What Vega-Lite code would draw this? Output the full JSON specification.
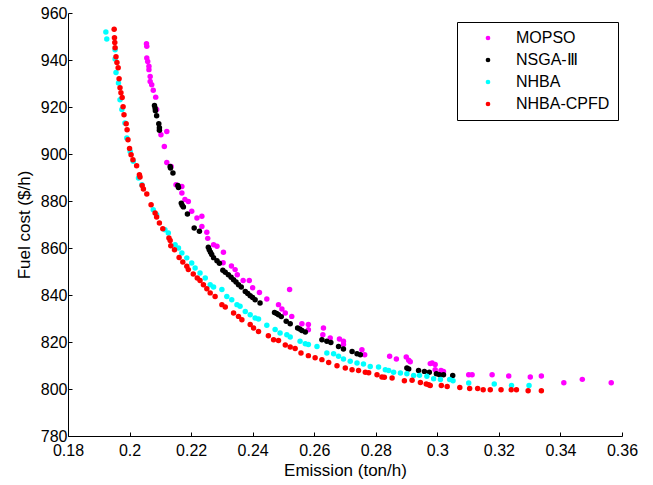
{
  "$schema": "https://vega.github.io/schema/vega-lite/v6.json",
  "width": 554,
  "height": 423,
  "autosize": {"type": "none"},
  "padding": {"left": 68, "top": 13, "right": 31, "bottom": 49},
  "background": "white",
  "config": {
    "view": {"stroke": null},
    "font": "Liberation Sans",
    "axis": {
      "grid": false,
      "domainColor": "black",
      "domainWidth": 1,
      "tickColor": "black",
      "tickWidth": 1,
      "tickSize": -4,
      "labelFont": "Liberation Sans",
      "labelFontSize": 16,
      "labelColor": "black",
      "titleFont": "Liberation Sans",
      "titleFontSize": 17,
      "titleFontWeight": "normal",
      "titleColor": "black"
    },
    "legend": {
      "labelFont": "Liberation Sans",
      "labelFontSize": 16,
      "labelColor": "black"
    }
  },
  "data": {"values": [
    {"a":"MOPSO","x":0.2055,"y":946.9},{"a":"MOPSO","x":0.2056,"y":945.8},{"a":"MOPSO","x":0.2056,"y":940.9},{"a":"MOPSO","x":0.2059,"y":939.4},{"a":"MOPSO","x":0.2063,"y":937.3},{"a":"MOPSO","x":0.2063,"y":935.9},{"a":"MOPSO","x":0.2067,"y":933.0},{"a":"MOPSO","x":0.2067,"y":930.9},{"a":"MOPSO","x":0.2072,"y":929.5},{"a":"MOPSO","x":0.2077,"y":927.1},{"a":"MOPSO","x":0.2085,"y":924.2},{"a":"MOPSO","x":0.2088,"y":918.9},{"a":"MOPSO","x":0.2102,"y":908.2},{"a":"MOPSO","x":0.2121,"y":909.6},{"a":"MOPSO","x":0.2113,"y":903.2},{"a":"MOPSO","x":0.2121,"y":896.4},{"a":"MOPSO","x":0.2135,"y":894.7},{"a":"MOPSO","x":0.2151,"y":886.9},{"a":"MOPSO","x":0.2170,"y":886.2},{"a":"MOPSO","x":0.2170,"y":883.4},{"a":"MOPSO","x":0.2180,"y":880.6},{"a":"MOPSO","x":0.2191,"y":879.8},{"a":"MOPSO","x":0.2202,"y":875.6},{"a":"MOPSO","x":0.2219,"y":872.8},{"a":"MOPSO","x":0.2235,"y":873.5},{"a":"MOPSO","x":0.2235,"y":869.2},{"a":"MOPSO","x":0.2251,"y":866.7},{"a":"MOPSO","x":0.2254,"y":864.1},{"a":"MOPSO","x":0.2273,"y":861.4},{"a":"MOPSO","x":0.2284,"y":860.7},{"a":"MOPSO","x":0.2305,"y":858.2},{"a":"MOPSO","x":0.2304,"y":853.7},{"a":"MOPSO","x":0.2331,"y":852.3},{"a":"MOPSO","x":0.2343,"y":850.8},{"a":"MOPSO","x":0.2350,"y":848.6},{"a":"MOPSO","x":0.2369,"y":846.2},{"a":"MOPSO","x":0.2389,"y":846.2},{"a":"MOPSO","x":0.2400,"y":843.1},{"a":"MOPSO","x":0.2422,"y":841.1},{"a":"MOPSO","x":0.2446,"y":838.3},{"a":"MOPSO","x":0.2520,"y":842.3},{"a":"MOPSO","x":0.2484,"y":835.9},{"a":"MOPSO","x":0.2495,"y":834.0},{"a":"MOPSO","x":0.2506,"y":832.3},{"a":"MOPSO","x":0.2527,"y":830.9},{"a":"MOPSO","x":0.2560,"y":827.8},{"a":"MOPSO","x":0.2581,"y":827.4},{"a":"MOPSO","x":0.2581,"y":825.2},{"a":"MOPSO","x":0.2630,"y":826.0},{"a":"MOPSO","x":0.2628,"y":823.1},{"a":"MOPSO","x":0.2652,"y":821.7},{"a":"MOPSO","x":0.2682,"y":821.3},{"a":"MOPSO","x":0.2695,"y":820.3},{"a":"MOPSO","x":0.2695,"y":818.9},{"a":"MOPSO","x":0.2755,"y":816.7},{"a":"MOPSO","x":0.2764,"y":814.6},{"a":"MOPSO","x":0.2845,"y":813.9},{"a":"MOPSO","x":0.2867,"y":812.8},{"a":"MOPSO","x":0.2899,"y":813.6},{"a":"MOPSO","x":0.2907,"y":812.2},{"a":"MOPSO","x":0.2912,"y":811.6},{"a":"MOPSO","x":0.2977,"y":810.8},{"a":"MOPSO","x":0.2983,"y":811.1},{"a":"MOPSO","x":0.2993,"y":810.4},{"a":"MOPSO","x":0.2993,"y":808.2},{"a":"MOPSO","x":0.3012,"y":807.9},{"a":"MOPSO","x":0.3020,"y":807.5},{"a":"MOPSO","x":0.3102,"y":806.1},{"a":"MOPSO","x":0.3113,"y":806.1},{"a":"MOPSO","x":0.3178,"y":806.1},{"a":"MOPSO","x":0.3232,"y":805.5},{"a":"MOPSO","x":0.3302,"y":805.1},{"a":"MOPSO","x":0.3338,"y":805.5},{"a":"MOPSO","x":0.3411,"y":802.7},{"a":"MOPSO","x":0.3471,"y":804.1},{"a":"MOPSO","x":0.3565,"y":802.7},

    {"a":"NSGA-Ⅲ","x":0.2081,"y":920.6},{"a":"NSGA-Ⅲ","x":0.2083,"y":919.6},{"a":"NSGA-Ⅲ","x":0.2084,"y":918.4},{"a":"NSGA-Ⅲ","x":0.2088,"y":916.3},{"a":"NSGA-Ⅲ","x":0.2095,"y":912.9},{"a":"NSGA-Ⅲ","x":0.2097,"y":911.2},{"a":"NSGA-Ⅲ","x":0.2097,"y":910.1},{"a":"NSGA-Ⅲ","x":0.2132,"y":894.7},{"a":"NSGA-Ⅲ","x":0.2133,"y":894.0},{"a":"NSGA-Ⅲ","x":0.2141,"y":891.9},{"a":"NSGA-Ⅲ","x":0.2157,"y":886.6},{"a":"NSGA-Ⅲ","x":0.2159,"y":885.7},{"a":"NSGA-Ⅲ","x":0.2168,"y":879.1},{"a":"NSGA-Ⅲ","x":0.2171,"y":878.2},{"a":"NSGA-Ⅲ","x":0.2175,"y":877.5},{"a":"NSGA-Ⅲ","x":0.2188,"y":874.5},{"a":"NSGA-Ⅲ","x":0.2210,"y":868.5},{"a":"NSGA-Ⅲ","x":0.2227,"y":867.1},{"a":"NSGA-Ⅲ","x":0.2256,"y":860.3},{"a":"NSGA-Ⅲ","x":0.2259,"y":859.3},{"a":"NSGA-Ⅲ","x":0.2263,"y":858.2},{"a":"NSGA-Ⅲ","x":0.2267,"y":857.2},{"a":"NSGA-Ⅲ","x":0.2273,"y":855.9},{"a":"NSGA-Ⅲ","x":0.2284,"y":854.6},{"a":"NSGA-Ⅲ","x":0.2292,"y":853.5},{"a":"NSGA-Ⅲ","x":0.2303,"y":850.5},{"a":"NSGA-Ⅲ","x":0.2311,"y":849.7},{"a":"NSGA-Ⅲ","x":0.2321,"y":848.6},{"a":"NSGA-Ⅲ","x":0.2330,"y":847.6},{"a":"NSGA-Ⅲ","x":0.2338,"y":846.5},{"a":"NSGA-Ⅲ","x":0.2346,"y":845.5},{"a":"NSGA-Ⅲ","x":0.2354,"y":844.4},{"a":"NSGA-Ⅲ","x":0.2363,"y":843.4},{"a":"NSGA-Ⅲ","x":0.2376,"y":841.5},{"a":"NSGA-Ⅲ","x":0.2384,"y":840.6},{"a":"NSGA-Ⅲ","x":0.2392,"y":839.7},{"a":"NSGA-Ⅲ","x":0.2400,"y":838.9},{"a":"NSGA-Ⅲ","x":0.2408,"y":838.0},{"a":"NSGA-Ⅲ","x":0.2424,"y":836.6},{"a":"NSGA-Ⅲ","x":0.2471,"y":832.6},{"a":"NSGA-Ⅲ","x":0.2478,"y":832.1},{"a":"NSGA-Ⅲ","x":0.2484,"y":831.6},{"a":"NSGA-Ⅲ","x":0.2493,"y":830.8},{"a":"NSGA-Ⅲ","x":0.2509,"y":828.8},{"a":"NSGA-Ⅲ","x":0.2522,"y":827.8},{"a":"NSGA-Ⅲ","x":0.2546,"y":826.0},{"a":"NSGA-Ⅲ","x":0.2553,"y":825.5},{"a":"NSGA-Ⅲ","x":0.2560,"y":824.9},{"a":"NSGA-Ⅲ","x":0.2571,"y":824.3},{"a":"NSGA-Ⅲ","x":0.2625,"y":821.0},{"a":"NSGA-Ⅲ","x":0.2641,"y":820.3},{"a":"NSGA-Ⅲ","x":0.2654,"y":819.8},{"a":"NSGA-Ⅲ","x":0.2679,"y":818.1},{"a":"NSGA-Ⅲ","x":0.2695,"y":817.0},{"a":"NSGA-Ⅲ","x":0.2723,"y":816.0},{"a":"NSGA-Ⅲ","x":0.2739,"y":815.0},{"a":"NSGA-Ⅲ","x":0.2750,"y":814.6},{"a":"NSGA-Ⅲ","x":0.2901,"y":808.9},{"a":"NSGA-Ⅲ","x":0.2907,"y":808.5},{"a":"NSGA-Ⅲ","x":0.2939,"y":807.9},{"a":"NSGA-Ⅲ","x":0.2958,"y":807.5},{"a":"NSGA-Ⅲ","x":0.2974,"y":807.1},{"a":"NSGA-Ⅲ","x":0.2997,"y":806.5},{"a":"NSGA-Ⅲ","x":0.3007,"y":806.1},{"a":"NSGA-Ⅲ","x":0.3020,"y":806.1},{"a":"NSGA-Ⅲ","x":0.3050,"y":805.7},

    {"a":"NHBA","x":0.1923,"y":951.9},{"a":"NHBA","x":0.1926,"y":948.9},{"a":"NHBA","x":0.1953,"y":944.4},{"a":"NHBA","x":0.1953,"y":940.4},{"a":"NHBA","x":0.1956,"y":934.7},{"a":"NHBA","x":0.1964,"y":930.2},{"a":"NHBA","x":0.1969,"y":923.1},{"a":"NHBA","x":0.1975,"y":918.9},{"a":"NHBA","x":0.1985,"y":913.2},{"a":"NHBA","x":0.1991,"y":906.8},{"a":"NHBA","x":0.2002,"y":901.1},{"a":"NHBA","x":0.2012,"y":896.9},{"a":"NHBA","x":0.2029,"y":889.8},{"a":"NHBA","x":0.2040,"y":886.9},{"a":"NHBA","x":0.2077,"y":876.3},{"a":"NHBA","x":0.2088,"y":874.2},{"a":"NHBA","x":0.2115,"y":867.8},{"a":"NHBA","x":0.2126,"y":866.4},{"a":"NHBA","x":0.2148,"y":861.4},{"a":"NHBA","x":0.2159,"y":860.0},{"a":"NHBA","x":0.2170,"y":857.9},{"a":"NHBA","x":0.2186,"y":855.8},{"a":"NHBA","x":0.2202,"y":853.6},{"a":"NHBA","x":0.2213,"y":851.5},{"a":"NHBA","x":0.2229,"y":849.4},{"a":"NHBA","x":0.2246,"y":847.2},{"a":"NHBA","x":0.2262,"y":844.4},{"a":"NHBA","x":0.2273,"y":843.4},{"a":"NHBA","x":0.2300,"y":842.3},{"a":"NHBA","x":0.2316,"y":839.4},{"a":"NHBA","x":0.2332,"y":838.0},{"a":"NHBA","x":0.2349,"y":835.9},{"a":"NHBA","x":0.2359,"y":835.2},{"a":"NHBA","x":0.2376,"y":833.0},{"a":"NHBA","x":0.2392,"y":831.6},{"a":"NHBA","x":0.2408,"y":830.2},{"a":"NHBA","x":0.2419,"y":829.8},{"a":"NHBA","x":0.2446,"y":827.1},{"a":"NHBA","x":0.2473,"y":825.3},{"a":"NHBA","x":0.2489,"y":823.8},{"a":"NHBA","x":0.2511,"y":823.1},{"a":"NHBA","x":0.2522,"y":822.1},{"a":"NHBA","x":0.2554,"y":820.3},{"a":"NHBA","x":0.2571,"y":819.3},{"a":"NHBA","x":0.2581,"y":818.9},{"a":"NHBA","x":0.2609,"y":818.1},{"a":"NHBA","x":0.2641,"y":815.3},{"a":"NHBA","x":0.2663,"y":815.0},{"a":"NHBA","x":0.2679,"y":813.9},{"a":"NHBA","x":0.2695,"y":812.8},{"a":"NHBA","x":0.2717,"y":811.8},{"a":"NHBA","x":0.2739,"y":811.1},{"a":"NHBA","x":0.2760,"y":810.6},{"a":"NHBA","x":0.2782,"y":809.6},{"a":"NHBA","x":0.2809,"y":809.4},{"a":"NHBA","x":0.2831,"y":808.2},{"a":"NHBA","x":0.2842,"y":807.9},{"a":"NHBA","x":0.2858,"y":807.1},{"a":"NHBA","x":0.2880,"y":806.8},{"a":"NHBA","x":0.2901,"y":806.5},{"a":"NHBA","x":0.2923,"y":805.7},{"a":"NHBA","x":0.2942,"y":805.8},{"a":"NHBA","x":0.2966,"y":805.4},{"a":"NHBA","x":0.2988,"y":804.4},{"a":"NHBA","x":0.3010,"y":804.0},{"a":"NHBA","x":0.3040,"y":804.0},{"a":"NHBA","x":0.3051,"y":803.5},{"a":"NHBA","x":0.3102,"y":802.6},{"a":"NHBA","x":0.3185,"y":802.1},{"a":"NHBA","x":0.3241,"y":801.5},{"a":"NHBA","x":0.3298,"y":801.5},

    {"a":"NHBA-CPFD","x":0.1950,"y":953.1},{"a":"NHBA-CPFD","x":0.1951,"y":949.5},{"a":"NHBA-CPFD","x":0.1952,"y":947.4},{"a":"NHBA-CPFD","x":0.1953,"y":945.2},{"a":"NHBA-CPFD","x":0.1956,"y":941.4},{"a":"NHBA-CPFD","x":0.1959,"y":938.9},{"a":"NHBA-CPFD","x":0.1963,"y":936.7},{"a":"NHBA-CPFD","x":0.1966,"y":932.0},{"a":"NHBA-CPFD","x":0.1969,"y":928.2},{"a":"NHBA-CPFD","x":0.1972,"y":926.1},{"a":"NHBA-CPFD","x":0.1976,"y":924.0},{"a":"NHBA-CPFD","x":0.1979,"y":920.1},{"a":"NHBA-CPFD","x":0.1982,"y":916.7},{"a":"NHBA-CPFD","x":0.1989,"y":912.9},{"a":"NHBA-CPFD","x":0.1992,"y":910.3},{"a":"NHBA-CPFD","x":0.1995,"y":906.1},{"a":"NHBA-CPFD","x":0.2000,"y":902.3},{"a":"NHBA-CPFD","x":0.2005,"y":899.7},{"a":"NHBA-CPFD","x":0.2011,"y":897.6},{"a":"NHBA-CPFD","x":0.2023,"y":895.0},{"a":"NHBA-CPFD","x":0.2032,"y":891.2},{"a":"NHBA-CPFD","x":0.2034,"y":890.2},{"a":"NHBA-CPFD","x":0.2041,"y":886.6},{"a":"NHBA-CPFD","x":0.2045,"y":885.1},{"a":"NHBA-CPFD","x":0.2056,"y":883.0},{"a":"NHBA-CPFD","x":0.2070,"y":878.4},{"a":"NHBA-CPFD","x":0.2083,"y":874.9},{"a":"NHBA-CPFD","x":0.2088,"y":873.2},{"a":"NHBA-CPFD","x":0.2097,"y":870.6},{"a":"NHBA-CPFD","x":0.2108,"y":868.2},{"a":"NHBA-CPFD","x":0.2128,"y":864.3},{"a":"NHBA-CPFD","x":0.2132,"y":863.2},{"a":"NHBA-CPFD","x":0.2134,"y":861.0},{"a":"NHBA-CPFD","x":0.2146,"y":859.3},{"a":"NHBA-CPFD","x":0.2161,"y":856.0},{"a":"NHBA-CPFD","x":0.2173,"y":854.0},{"a":"NHBA-CPFD","x":0.2186,"y":852.2},{"a":"NHBA-CPFD","x":0.2191,"y":850.8},{"a":"NHBA-CPFD","x":0.2207,"y":848.9},{"a":"NHBA-CPFD","x":0.2220,"y":847.2},{"a":"NHBA-CPFD","x":0.2229,"y":846.2},{"a":"NHBA-CPFD","x":0.2240,"y":844.4},{"a":"NHBA-CPFD","x":0.2251,"y":842.7},{"a":"NHBA-CPFD","x":0.2262,"y":840.9},{"a":"NHBA-CPFD","x":0.2278,"y":839.4},{"a":"NHBA-CPFD","x":0.2300,"y":835.9},{"a":"NHBA-CPFD","x":0.2311,"y":834.9},{"a":"NHBA-CPFD","x":0.2338,"y":832.3},{"a":"NHBA-CPFD","x":0.2354,"y":830.9},{"a":"NHBA-CPFD","x":0.2365,"y":829.5},{"a":"NHBA-CPFD","x":0.2392,"y":827.4},{"a":"NHBA-CPFD","x":0.2403,"y":826.0},{"a":"NHBA-CPFD","x":0.2419,"y":824.5},{"a":"NHBA-CPFD","x":0.2451,"y":822.7},{"a":"NHBA-CPFD","x":0.2468,"y":821.0},{"a":"NHBA-CPFD","x":0.2484,"y":820.6},{"a":"NHBA-CPFD","x":0.2506,"y":818.7},{"a":"NHBA-CPFD","x":0.2522,"y":817.9},{"a":"NHBA-CPFD","x":0.2538,"y":817.2},{"a":"NHBA-CPFD","x":0.2557,"y":815.3},{"a":"NHBA-CPFD","x":0.2581,"y":814.2},{"a":"NHBA-CPFD","x":0.2603,"y":813.3},{"a":"NHBA-CPFD","x":0.2625,"y":812.5},{"a":"NHBA-CPFD","x":0.2647,"y":811.3},{"a":"NHBA-CPFD","x":0.2674,"y":809.9},{"a":"NHBA-CPFD","x":0.2701,"y":808.9},{"a":"NHBA-CPFD","x":0.2723,"y":808.2},{"a":"NHBA-CPFD","x":0.2744,"y":807.9},{"a":"NHBA-CPFD","x":0.2766,"y":807.1},{"a":"NHBA-CPFD","x":0.2777,"y":806.9},{"a":"NHBA-CPFD","x":0.2804,"y":806.1},{"a":"NHBA-CPFD","x":0.2820,"y":805.1},{"a":"NHBA-CPFD","x":0.2828,"y":805.0},{"a":"NHBA-CPFD","x":0.2853,"y":804.7},{"a":"NHBA-CPFD","x":0.2893,"y":803.5},{"a":"NHBA-CPFD","x":0.2918,"y":803.7},{"a":"NHBA-CPFD","x":0.2945,"y":802.8},{"a":"NHBA-CPFD","x":0.2964,"y":802.1},{"a":"NHBA-CPFD","x":0.2972,"y":801.8},{"a":"NHBA-CPFD","x":0.2977,"y":801.5},{"a":"NHBA-CPFD","x":0.3013,"y":801.5},{"a":"NHBA-CPFD","x":0.3032,"y":801.1},{"a":"NHBA-CPFD","x":0.3073,"y":800.6},{"a":"NHBA-CPFD","x":0.3105,"y":800.2},{"a":"NHBA-CPFD","x":0.3131,"y":800.2},{"a":"NHBA-CPFD","x":0.3149,"y":799.7},{"a":"NHBA-CPFD","x":0.3172,"y":799.7},{"a":"NHBA-CPFD","x":0.3207,"y":799.7},{"a":"NHBA-CPFD","x":0.3240,"y":799.7},{"a":"NHBA-CPFD","x":0.3257,"y":799.7},{"a":"NHBA-CPFD","x":0.3295,"y":799.3},{"a":"NHBA-CPFD","x":0.3338,"y":799.3}
  ]},
  "mark": {"type": "circle", "size": 30, "opacity": 1},
  "encoding": {
    "x": {
      "field": "x", "type": "quantitative",
      "scale": {"domain": [0.18, 0.36], "nice": false, "zero": false},
      "axis": {
        "title": "Emission (ton/h)",
        "values": [0.18, 0.2, 0.22, 0.24, 0.26, 0.28, 0.3, 0.32, 0.34, 0.36],
        "format": ".2~f",
        "labelPadding": 10,
        "titlePadding": 4,
        "labelFlush": false
      }
    },
    "y": {
      "field": "y", "type": "quantitative",
      "scale": {"domain": [780, 960], "nice": false, "zero": false},
      "axis": {
        "title": "Fuel cost ($/h)",
        "values": [780, 800, 820, 840, 860, 880, 900, 920, 940, 960],
        "labelPadding": 5,
        "titlePadding": 7,
        "labelFlush": false
      }
    },
    "color": {
      "field": "a", "type": "nominal",
      "scale": {
        "domain": ["MOPSO", "NSGA-Ⅲ", "NHBA", "NHBA-CPFD"],
        "range": ["#FF00FF", "#000000", "#00FFFF", "#FF0000"]
      },
      "legend": {
        "title": null,
        "orient": "none",
        "legendX": 389,
        "legendY": 9,
        "strokeColor": "black",
        "fillColor": "white",
        "padding": 8,
        "symbolOffset": 15,
        "symbolSize": 22,
        "symbolType": "circle",
        "symbolStrokeWidth": 0,
        "labelOffset": 20,
        "rowPadding": 6
      }
    }
  }
}
